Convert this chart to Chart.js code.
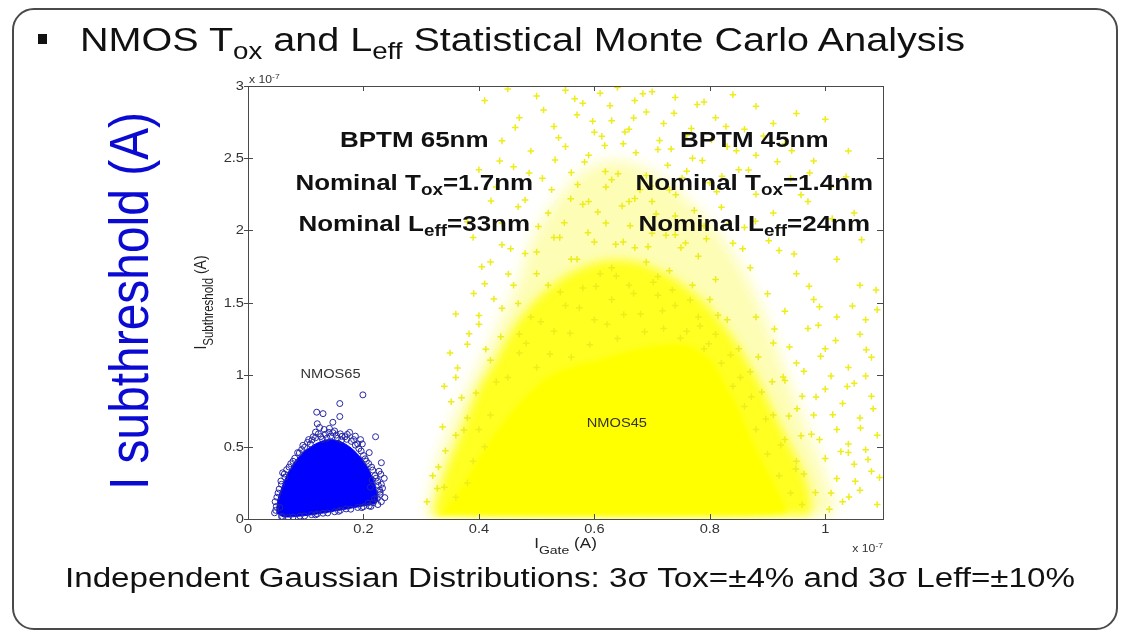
<!DOCTYPE html>
<html>
<head>
<meta charset="utf-8">
<script src="https://cdn.jsdelivr.net/npm/chart.js@4.4.0/dist/chart.umd.min.js"></script>
<style>
  html, body { margin: 0; padding: 0; background: #fff; }
  #stage { position: relative; width: 1124px; height: 633px; overflow: hidden;
           font-family: "Liberation Sans", Arial, sans-serif; color: #111; }
  #plot { position: absolute; left: 0; top: 0; }
  .frame { position: absolute; left: 12px; top: 8px; width: 1102px; height: 618px;
           border: 2px solid #4a4a4a; border-radius: 22px; }
  .bullet { position: absolute; left: 38px; top: 34px; width: 9px; height: 10px; background: #111; }
  .line { position: absolute; white-space: nowrap; line-height: 1; transform-origin: 0 0; }
  .title { left: 80px; top: 22px; font-size: 34px; }
  .caption { left: 65px; top: 565px; font-size: 27px; }
  .sub { font-size: 0.7em; position: relative; top: 0.32em; }
  .bigLabel { position: absolute; left: 128px; top: 301px; font-size: 46px; line-height: 1;
              white-space: nowrap; color: #0a0ad2; }
</style>
</head>
<body>
<div id="stage">
  <canvas id="plot" width="1124" height="633"></canvas>
  <div class="frame"></div>
  <div class="bullet"></div>
  <div class="line title" id="title">NMOS T<span class="sub">ox</span> and L<span class="sub">eff</span> Statistical Monte Carlo Analysis</div>
  <div class="bigLabel" id="bigLabel">I subthreshold (A)</div>
  <div class="line caption" id="caption">Independent Gaussian Distributions: 3σ Tox=±4% and 3σ Leff=±10%</div>
</div>
<script>
// axis ticks (units of 1e-7 A)
const xTicks = [0, 0.2, 0.4, 0.6, 0.8, 1];
const yTicks = [0, 0.5, 1, 1.5, 2, 2.5, 3];

// NMOS45 cloud: density outlines (IGate, ISub) and the scattered '+' samples
const nmos45Haze = [[0.31,0.03],[0.33,0.40],[0.36,0.72],[0.40,1.05],[0.44,1.38],[0.47,1.65],[0.49,1.90],[0.53,2.18],[0.58,2.40],[0.63,2.48],[0.69,2.42],[0.75,2.25],[0.81,2.00],[0.86,1.70],[0.90,1.35],[0.93,1.02],[0.96,0.70],[0.99,0.40],[1.01,0.15],[1.01,0.03],[0.31,0.03]];
const nmos45Mid = [[0.32,0.03],[0.34,0.30],[0.36,0.50],[0.38,0.70],[0.40,0.90],[0.43,1.10],[0.46,1.32],[0.50,1.52],[0.55,1.68],[0.61,1.78],[0.67,1.78],[0.73,1.68],[0.79,1.50],[0.84,1.25],[0.88,0.98],[0.91,0.74],[0.94,0.50],[0.965,0.28],[0.975,0.10],[0.97,0.03],[0.32,0.03]];
const nmos45Core = [[0.33,0.035],[0.35,0.10],[0.37,0.22],[0.39,0.35],[0.41,0.48],[0.44,0.65],[0.48,0.84],[0.52,0.98],[0.56,1.05],[0.61,1.10],[0.66,1.16],[0.71,1.20],[0.76,1.20],[0.80,1.10],[0.83,0.90],[0.85,0.75],[0.87,0.56],[0.89,0.40],[0.91,0.25],[0.925,0.12],[0.93,0.05],[0.80,0.035],[0.60,0.03],[0.45,0.03],[0.33,0.035]];
const nmos45Points = [
  [0.50,2.93],[0.55,2.97],[0.58,2.88],[0.61,2.95],[0.64,2.99],[0.67,2.90],[0.70,2.96],[0.74,2.92],[0.79,2.89],[0.84,2.94],[0.88,2.86],
  [0.47,2.78],[0.53,2.72],[0.57,2.80],[0.60,2.68],[0.63,2.76],[0.66,2.70],[0.69,2.82],[0.72,2.74],[0.76,2.66],[0.81,2.78],[0.86,2.70],
  [0.91,2.74],[0.95,2.81],[1.00,2.77],[0.44,2.62],[0.49,2.55],[0.55,2.58],[0.59,2.52],[0.65,2.60],[0.71,2.56],[0.77,2.50],[0.83,2.58],
  [0.88,2.52],[0.93,2.60],[0.98,2.48],[1.04,2.55],[0.41,2.90],[0.45,2.98],
  [0.40,2.42],[0.43,2.30],[0.46,2.44],[0.48,2.21],[0.51,2.36],[0.52,2.12],[0.56,2.40],[0.58,2.18],[0.62,2.30],[0.66,2.20],[0.69,2.38],
  [0.73,2.28],[0.76,2.41],[0.80,2.33],[0.82,2.16],[0.85,2.42],[0.88,2.25],[0.91,2.12],[0.94,2.36],[0.97,2.20],[1.01,2.30],[1.05,2.12],
  [0.38,2.06],[0.44,2.05],[0.79,2.03],[0.86,2.02],
  [0.39,1.95],[0.42,1.78],[0.44,1.90],[0.46,1.62],[0.48,1.84],[0.50,1.70],[0.53,1.95],[0.56,1.80],[0.60,1.92],[0.63,1.74],[0.67,1.88],
  [0.71,1.68],[0.74,1.97],[0.78,1.82],[0.81,1.66],[0.84,1.91],[0.87,1.74],[0.90,1.56],[0.92,1.86],[0.95,1.70],[0.98,1.52],[1.02,1.80],
  [1.06,1.62],[1.09,1.45],[0.41,1.63],[0.40,1.41],
  [0.36,1.42],[0.38,1.21],[0.40,1.35],[0.42,1.10],[0.44,1.46],[0.47,1.28],[0.88,1.40],[0.91,1.22],[0.93,1.44],[0.95,1.08],[0.97,1.32],
  [1.00,1.18],[1.02,1.40],[1.04,1.05],[1.06,1.28],[1.08,1.12],[0.99,1.47],[1.07,1.38],[0.35,1.15],
  [0.34,0.92],[0.36,0.98],[0.37,0.84],[0.38,0.70],[0.36,0.58],[0.93,0.96],[0.96,0.85],[0.98,0.72],[1.00,0.90],[1.02,0.62],[1.03,0.80],
  [1.05,0.94],[1.06,0.70],[1.08,0.85],[1.09,0.58],[1.04,0.52],[0.99,0.55],[1.01,0.99],[1.07,0.99],
  [0.31,0.12],[0.32,0.30],[0.33,0.36],[0.34,0.22],[1.00,0.42],[1.02,0.28],[1.03,0.12],[1.05,0.38],[1.06,0.20],[1.08,0.33],[1.09,0.10],
  [1.04,0.46],[1.07,0.48],[1.01,0.18],
  [0.45,0.98],[0.47,1.15],[0.49,1.40],[0.50,1.05],[0.52,1.62],[0.53,1.30],[0.55,1.48],[0.56,1.12],[0.57,1.80],[0.58,1.60],[0.60,1.38],
  [0.61,1.70],[0.62,2.05],[0.63,1.52],[0.64,1.25],[0.65,1.92],[0.66,1.62],[0.67,2.22],[0.68,1.42],[0.69,1.78],[0.70,1.98],[0.71,1.55],
  [0.72,1.32],[0.73,1.72],[0.74,1.48],[0.75,1.88],[0.76,1.30],[0.77,1.62],[0.78,1.40],[0.79,1.18],[0.80,1.52],[0.81,1.28],[0.82,1.08],
  [0.83,1.38],[0.84,0.92],[0.85,1.18],[0.86,0.78],[0.87,1.02],[0.88,0.62],[0.89,0.88],[0.90,0.45],[0.91,0.72],[0.92,0.30],[0.93,0.55],
  [0.94,0.18],[0.95,0.40],[0.96,0.10],[0.42,0.72],[0.43,0.95],[0.40,0.62],[0.39,0.40],[0.41,0.50],[0.38,0.25],[0.36,0.15],[0.54,1.95],
  [0.59,2.20],[0.63,2.35],[0.70,2.20],[0.74,2.10],[0.50,1.85],
  [0.512,2.834],[0.538,2.641],[0.566,2.912],[0.583,2.473],[0.597,2.756],[0.618,2.587],[0.627,2.864],[0.641,2.392],[0.653,2.681],
  [0.672,2.538],[0.684,2.947],[0.697,2.307],[0.713,2.623],[0.727,2.451],[0.738,2.812],[0.752,2.362],[0.768,2.705],[0.787,2.483],
  [0.803,2.628],[0.821,2.374],[0.846,2.552],[0.867,2.418],[0.893,2.653],[0.917,2.476],[0.942,2.551],[0.973,2.398],[0.526,2.281],
  [0.548,2.053],[0.571,2.317],[0.589,1.984],[0.606,2.127],[0.619,2.408],[0.637,1.903],[0.648,2.169],[0.662,2.032],[0.679,2.282],
  [0.693,1.887],[0.707,2.114],[0.724,1.966],[0.741,2.247],[0.758,1.912],[0.773,2.138],[0.794,1.941],[0.812,2.267],[0.833,2.047],
  [0.857,1.872],[0.879,2.063],[0.902,1.928],[0.468,2.163],[0.487,2.397],[0.455,1.872],[0.503,2.027],[0.436,2.481],[0.421,2.204],
  [0.463,2.712],[0.532,2.488],[0.559,2.219],[0.613,2.651],[0.668,2.779],[0.733,2.563],[0.778,2.871],[0.828,2.719],[0.958,2.246],
  [1.012,2.081],[1.036,2.372],[1.063,1.934],
  [0.352,0.812],[0.363,1.047],[0.374,0.617],[0.383,1.283],[0.395,0.873],[0.412,1.176],[0.426,1.524],[0.438,1.263],[0.451,1.697],
  [0.468,1.493],[0.342,0.473],[0.328,0.212],[0.337,0.638],[0.391,1.562],[0.405,1.748],
  [0.912,1.317],[0.927,0.983],[0.938,1.192],[0.951,0.764],[0.963,1.023],[0.976,0.587],[0.984,0.846],[0.992,1.127],[1.013,0.723],
  [1.027,0.467],[1.038,0.918],[1.052,0.261],[1.061,0.631],[1.074,0.412],[1.083,0.764],[1.094,0.287],[1.018,1.237],[1.047,1.476],
  [1.071,1.173],[1.088,1.586],[0.972,1.613],[0.946,1.836],[0.988,1.342],[0.963,0.312],[0.983,0.183],[1.007,0.067],[1.041,0.153],
  [0.482,1.218],[0.507,1.367],[0.523,1.143],[0.541,1.572],[0.558,1.287],[0.574,1.463],[0.592,1.207],[0.603,1.612],[0.622,1.349],
  [0.638,1.683],[0.651,1.417],[0.668,1.562],[0.687,1.297],[0.702,1.641],[0.718,1.443],[0.735,1.587],[0.749,1.253],[0.766,1.517],
  [0.783,1.337],[0.798,1.214],[0.814,1.411],[0.836,1.137],[0.853,0.981],[0.872,0.847],[0.884,1.123],[0.897,0.693],[0.908,0.951],
  [0.923,0.512],[0.937,0.713],[0.949,0.347],[0.958,0.576]
];

// NMOS65 cloud: solid body outline and the open-circle samples around it
const nmos65Core = [[0.050,0.04],[0.051,0.12],[0.057,0.20],[0.066,0.29],[0.077,0.37],[0.090,0.44],[0.105,0.49],[0.122,0.53],[0.140,0.55],[0.158,0.54],[0.176,0.50],[0.192,0.44],[0.205,0.37],[0.215,0.29],[0.222,0.20],[0.224,0.12],[0.205,0.095],[0.178,0.075],[0.150,0.055],[0.120,0.035],[0.090,0.02],[0.062,0.015],[0.050,0.04]];
const nmos65Points = [
  [0.199,0.86],[0.159,0.80],[0.119,0.74],[0.130,0.73],[0.159,0.71],[0.147,0.67],[0.120,0.66],[0.221,0.57],[0.195,0.55],[0.198,0.52],
  [0.231,0.39],[0.210,0.46],[0.230,0.31],[0.231,0.24],[0.229,0.17],[0.231,0.12],[0.225,0.10],
  [0.095,0.51],[0.105,0.55],[0.113,0.57],[0.122,0.59],[0.132,0.62],[0.140,0.60],[0.150,0.61],[0.160,0.59],[0.168,0.57],[0.176,0.60],
  [0.183,0.55],[0.190,0.52],[0.108,0.52],[0.137,0.56],[0.155,0.56],
  [0.048,0.06],[0.047,0.12],[0.052,0.18],[0.058,0.24],[0.064,0.29],[0.071,0.36],[0.078,0.40],[0.086,0.46],[0.060,0.32],[0.055,0.08],
  [0.205,0.40],[0.214,0.36],[0.220,0.30],[0.225,0.26],[0.228,0.20],[0.215,0.27],[0.219,0.14],[0.208,0.11],[0.200,0.44],[0.212,0.22],
  [0.07,0.01],[0.09,0.02],[0.11,0.03],[0.13,0.04],[0.15,0.05],[0.17,0.07],[0.19,0.08],[0.21,0.09],[0.06,0.015],[0.12,0.035],[0.16,0.06],[0.20,0.085],
  [0.098,0.497],[0.103,0.531],[0.111,0.548],[0.117,0.563],[0.126,0.571],[0.134,0.587],[0.143,0.574],[0.147,0.598],[0.153,0.581],
  [0.163,0.573],[0.171,0.552],[0.179,0.538],[0.186,0.512],[0.192,0.488],[0.129,0.552],[0.162,0.547],[0.117,0.602],[0.124,0.634],
  [0.141,0.628],[0.172,0.586],[0.186,0.574],
  [0.049,0.087],[0.050,0.151],[0.054,0.207],[0.057,0.263],[0.063,0.312],[0.067,0.342],[0.074,0.383],[0.081,0.421],[0.089,0.458],
  [0.093,0.481],[0.046,0.043],
  [0.196,0.471],[0.203,0.417],[0.209,0.384],[0.216,0.339],[0.222,0.283],[0.226,0.232],[0.229,0.186],[0.224,0.142],[0.217,0.113],
  [0.227,0.331],[0.236,0.282],[0.233,0.214],[0.237,0.148],
  [0.058,0.018],[0.078,0.014],[0.098,0.021],[0.117,0.029],[0.138,0.042],[0.157,0.053],[0.178,0.068],[0.197,0.079],[0.213,0.087]
];

const label65 = [[['BPTM 65nm']], [['Nominal T'], ['ox', 'sub'], ['=1.7nm']], [['Nominal L'], ['eff', 'sub'], ['=33nm']]];
const label45 = [[['BPTM 45nm']], [['Nominal T'], ['ox', 'sub'], ['=1.4nm']], [['Nominal L'], ['eff', 'sub'], ['=24nm']]];

const FONT = '"Liberation Sans", Arial, sans-serif';
const toXY = arr => arr.map(p => ({ x: p[0], y: p[1] }));

// text with sub/superscript runs, optional stretch and rotation
function drawParts(ctx, parts, x, y, o) {
  const size = o.size, sub = o.subSize || Math.round(size * 0.72);
  const weight = o.bold ? 'bold ' : '';
  const fontFor = k => weight + (k ? sub : size) + 'px ' + FONT;
  ctx.save();
  ctx.translate(x, y);
  if (o.rotate) ctx.rotate(o.rotate);
  ctx.scale(o.sx || 1, o.sy || 1);
  let total = 0;
  const widths = parts.map(([t, k]) => {
    ctx.font = fontFor(k);
    const w = ctx.measureText(t).width;
    total += w;
    return w;
  });
  let cx = o.align === 'center' ? -total / 2 : o.align === 'right' ? -total : 0;
  ctx.fillStyle = o.color || '#000';
  ctx.textAlign = 'left';
  ctx.textBaseline = 'alphabetic';
  parts.forEach(([t, k], i) => {
    ctx.font = fontFor(k);
    const dy = k === 'sub' ? size * (o.subDrop || 0.25) : k === 'sup' ? -size * 0.45 : 0;
    ctx.fillText(t, cx, dy);
    cx += widths[i];
  });
  ctx.restore();
}

// soft edges for the density regions; must run before the filler draws
const softRegions = {
  id: 'softRegions',
  beforeDatasetDraw(chart, args) {
    const b = chart.data.datasets[args.index].blur;
    if (!b) return;
    chart.ctx.save();
    chart.ctx.filter = 'blur(' + b + 'px)';
  },
  afterDatasetDraw(chart, args) {
    if (chart.data.datasets[args.index].blur) chart.ctx.restore();
  }
};
if (Chart.Filler) {
  Chart.unregister(Chart.Filler);
  Chart.register(softRegions);
  Chart.register(Chart.Filler);
} else {
  Chart.register(softRegions);
}

const axesDecor = {
  id: 'axesDecor',
  afterDraw(chart) {
    const { ctx, chartArea: a, scales: { x, y } } = chart;
    const SX = 1.22;
    ctx.save();
    ctx.strokeStyle = '#4a4a4a';
    ctx.lineWidth = 1;
    ctx.strokeRect(a.left + 0.5, a.top + 0.5, a.right - a.left, a.bottom - a.top);
    ctx.beginPath();
    xTicks.forEach(v => {
      const px = Math.round(x.getPixelForValue(v)) + 0.5;
      ctx.moveTo(px, a.bottom); ctx.lineTo(px, a.bottom - 5);
      ctx.moveTo(px, a.top); ctx.lineTo(px, a.top + 5);
    });
    yTicks.forEach(v => {
      const py = Math.round(y.getPixelForValue(v)) + 0.5;
      ctx.moveTo(a.left - 4, py); ctx.lineTo(a.left + 5, py);
      ctx.moveTo(a.right, py); ctx.lineTo(a.right - 6, py);
    });
    ctx.stroke();
    ctx.restore();

    const tick = { size: 12, sx: SX, color: '#333' };
    xTicks.forEach(v => drawParts(ctx, [[String(v)]], x.getPixelForValue(v), a.bottom + 14, { ...tick, align: 'center' }));
    yTicks.forEach(v => drawParts(ctx, [[String(v)]], a.left - 4, y.getPixelForValue(v) + 4, { ...tick, align: 'right' }));

    // axis titles and exponent marks
    drawParts(ctx, [['I'], ['Gate', 'sub'], [' (A)']], (a.left + a.right) / 2, a.bottom + 29,
      { size: 14, subSize: 11.5, subDrop: 0.4, sx: SX, align: 'center', color: '#222' });
    drawParts(ctx, [['I'], ['Subthreshold', 'sub'], [' (A)']], 206, (a.top + a.bottom) / 2,
      { size: 14, subSize: 11.5, subDrop: 0.4, sy: SX, rotate: -Math.PI / 2, align: 'center', color: '#222' });
    drawParts(ctx, [['x 10'], ['-7', 'sup']], a.right, a.bottom + 33, { size: 10, sx: SX, align: 'right', color: '#333' });
    drawParts(ctx, [['x 10'], ['-7', 'sup']], a.left + 1, a.top - 3, { size: 10, sx: SX, color: '#333' });

    // technology annotations
    const rows = [2.578, 2.282, 1.994];
    const big = { size: 22, sx: 1.18, bold: true, align: 'center', subSize: 16, subDrop: 0.24, color: '#111' };
    label65.forEach((parts, i) => drawParts(ctx, parts, x.getPixelForValue(0.288), y.getPixelForValue(rows[i]), big));
    label45.forEach((parts, i) => drawParts(ctx, parts, x.getPixelForValue(0.877), y.getPixelForValue(rows[i]), big));
    drawParts(ctx, [['NMOS65']], x.getPixelForValue(0.143), y.getPixelForValue(0.976), { size: 12, sx: SX, align: 'center', color: '#333' });
    drawParts(ctx, [['NMOS45']], x.getPixelForValue(0.639), y.getPixelForValue(0.637), { size: 12, sx: SX, align: 'center', color: '#333' });
  }
};

const region = (data, color, order, blur) => ({
  type: 'line', data: toXY(data), order, blur, fill: 'shape', backgroundColor: color,
  borderColor: color, borderWidth: 1, pointRadius: 0, tension: 0.3
});

new Chart(document.getElementById('plot'), {
  type: 'scatter',
  data: {
    datasets: [
      region(nmos45Haze, 'rgba(250,250,60,0.38)', 9, 7),
      region(nmos45Mid, 'rgba(255,255,0,0.82)', 8, 5),
      region(nmos45Core, '#ffff00', 7, 2),
      { label: 'NMOS45', data: toXY(nmos45Points), order: 6, pointStyle: 'cross', pointRadius: 3.3,
        borderColor: '#eded1c', borderWidth: 1.5, backgroundColor: '#eded1c' },
      region(nmos65Core, '#0000ff', 5, 0),
      { label: 'NMOS65', data: toXY(nmos65Points), order: 4, pointStyle: 'circle', pointRadius: 3,
        borderColor: '#2626a6', borderWidth: 1, backgroundColor: 'rgba(0,0,0,0)' }
    ]
  },
  options: {
    responsive: false,
    animation: false,
    events: [],
    layout: { padding: { left: 248, right: 241, top: 86, bottom: 114 } },
    plugins: { legend: { display: false }, tooltip: { enabled: false } },
    scales: {
      x: { type: 'linear', min: 0, max: 1.1, ticks: { display: false }, grid: { display: false },
           border: { display: false }, afterFit: s => { s.height = 0; } },
      y: { type: 'linear', min: 0, max: 3, ticks: { display: false }, grid: { display: false },
           border: { display: false }, afterFit: s => { s.width = 0; } }
    }
  },
  plugins: [axesDecor]
});

// slide text: stretch each line to its width on the slide
function stretch(el, width) {
  el.style.transform = 'scaleX(' + (width / el.offsetWidth) + ')';
}
stretch(document.getElementById('title'), 885);
stretch(document.getElementById('caption'), 1010);
const big = document.getElementById('bigLabel');
big.style.transform = 'translate(-50%,-50%) rotate(-90deg) scale(' + (378 / big.offsetWidth) + ',1.22)';
</script>
</body>
</html>
